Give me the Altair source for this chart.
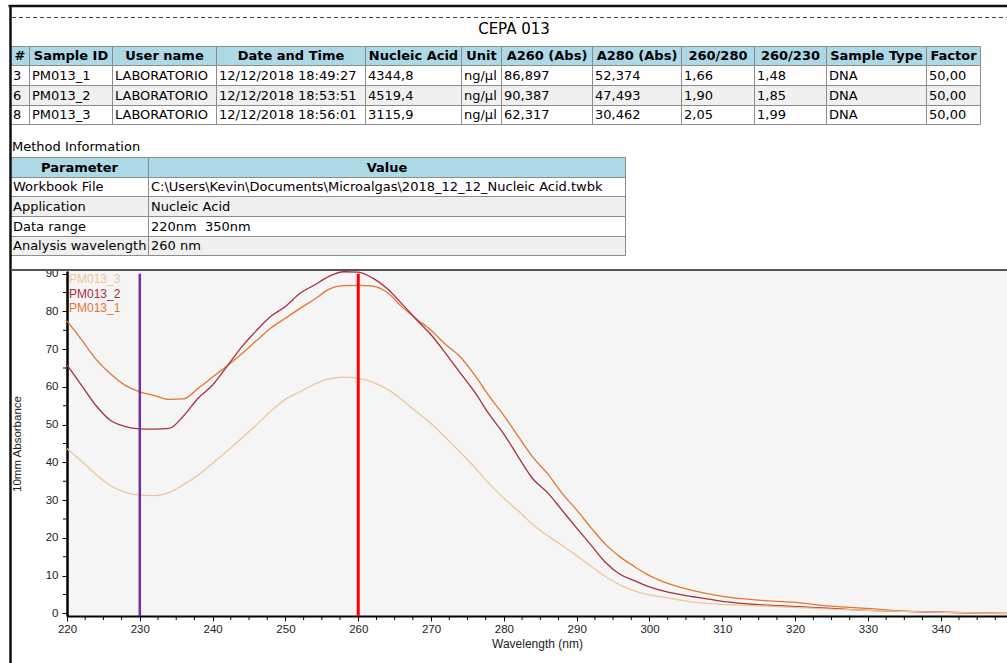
import altair as alt
import pandas as pd

# ------------------------------------------------------------------ data
wavelengths = [220, 222, 224, 226, 228, 230, 232, 234, 236, 238, 240, 242, 244, 246, 248, 250,
               252, 254, 256, 258, 260, 262, 264, 266, 268, 270, 272, 274, 276, 278, 280, 282,
               284, 286, 288, 290, 292, 294, 296, 298, 300, 303, 306, 310, 315, 320, 325, 330,
               335, 340, 345, 350]
pm013_1 = [77.5, 72.5, 67.3, 63.4, 60.4, 58.7, 57.7, 56.7, 56.8, 59.6, 62.6, 65.6, 68.8, 72.2, 75.6, 78.2,
           80.8, 83.2, 85.9, 86.8, 86.9, 86.7, 85.0, 81.2, 78.0, 75.0, 71.2, 68.0, 63.1, 57.5, 52.4, 46.8,
           41.3, 37.0, 31.8, 27.4, 22.6, 18.2, 14.9, 12.3, 10.0, 7.6, 6.0, 4.5, 3.5, 2.9, 1.9, 1.3,
           0.6, 0.35, 0.1, -0.1]
pm013_2 = [65.8, 60.4, 55.0, 51.1, 49.5, 48.9, 48.8, 49.0, 52.3, 57.0, 60.5, 65.5, 70.6, 74.9, 78.7, 81.3,
           84.8, 87.0, 89.3, 90.5, 90.4, 88.8, 86.0, 82.0, 77.8, 73.8, 68.9, 63.7, 58.6, 52.7, 47.5, 41.4,
           35.6, 32.0, 27.3, 22.6, 18.0, 13.4, 10.3, 8.6, 7.0, 5.4, 4.4, 3.2, 2.3, 1.8, 1.3, 0.8,
           0.5, 0.3, 0.1, 0.0]
pm013_3 = [43.7, 40.3, 36.8, 33.8, 32.1, 31.3, 31.2, 32.0, 34.1, 36.6, 39.8, 43.0, 46.4, 49.9, 53.6, 56.7,
           58.7, 60.7, 62.1, 62.6, 62.3, 61.2, 59.4, 56.6, 53.4, 50.3, 46.5, 42.7, 38.7, 34.3, 30.5, 27.1,
           23.5, 20.6, 18.0, 15.3, 12.4, 9.7, 7.5, 5.9, 4.9, 3.9, 3.0, 2.4, 2.0, 1.6, 1.1, 0.8,
           0.5, 0.3, 0.1, 0.0]
series_names = ["PM013_1", "PM013_2", "PM013_3"]
legend_order = ["PM013_3", "PM013_2", "PM013_1"]

marker_230 = [230]
marker_260 = [260]
marker_top = 90

x_ticks = [220, 230, 240, 250, 260, 270, 280, 290, 300, 310, 320, 330, 340]
y_ticks = [0, 10, 20, 30, 40, 50, 60, 70, 80, 90]
x_minor = [w / 2 for w in range(440, 700, 5) if w % 20 != 0]
y_minor = [5, 15, 25, 35, 45, 55, 65, 75, 85]

report_title = "CEPA 013"
sample_columns = ["#", "Sample ID", "User name", "Date and Time", "Nucleic Acid", "Unit",
                  "A260 (Abs)", "A280 (Abs)", "260/280", "260/230", "Sample Type", "Factor"]
row_number = ["3", "6", "8"]
sample_id = ["PM013_1", "PM013_2", "PM013_3"]
user_name = ["LABORATORIO", "LABORATORIO", "LABORATORIO"]
date_time = ["12/12/2018 18:49:27", "12/12/2018 18:53:51", "12/12/2018 18:56:01"]
nucleic_acid = ["4344,8", "4519,4", "3115,9"]
unit = ["ng/µl", "ng/µl", "ng/µl"]
a260 = ["86,897", "90,387", "62,317"]
a280 = ["52,374", "47,493", "30,462"]
ratio_260_280 = ["1,66", "1,90", "2,05"]
ratio_260_230 = ["1,48", "1,85", "1,99"]
sample_type = ["DNA", "DNA", "DNA"]
factor = ["50,00", "50,00", "50,00"]

method_caption = "Method Information"
method_columns = ["Parameter", "Value"]
method_params = ["Workbook File", "Application", "Data range", "Analysis wavelength"]
method_values = ["C:\\Users\\Kevin\\Documents\\Microalgas\\2018_12_12_Nucleic Acid.twbk",
                 "Nucleic Acid", "220nm\u00a0 350nm", "260 nm"]

# ------------------------------------------------------------------ layout / style
PAGE_W, PAGE_H = 1007, 663
PLOT_L, PLOT_T = 67, 271
PLOT_W, PLOT_H = 940, 345
series_colors = ["#E3772D", "#A8303D", "#EEC597"]
TXT_FONT = "DejaVu Sans"
AX_FONT = "Liberation Sans"
HEADER_FILL = "#ADD8E6"
ALT_FILL = "#F0F0F0"
GRID = "#8c8c8c"

t1_cols = [10.5, 29.5, 112.5, 216.5, 365.5, 461.5, 501.5, 592.5, 681.5, 754.5, 826.5, 926.5, 980.5]
t1_rows = [46.5, 65.5, 85.5, 105.5, 124.5]
t1_fills = ["white", ALT_FILL, "white"]
t2_cols = [10.5, 148.5, 625.5]
t2_rows = [157.5, 177.5, 196.5, 216.5, 236.5, 255.5]
t2_fills = ["white", ALT_FILL, "white", ALT_FILL]

page_x = alt.Scale(domain=[0, PAGE_W], range=[-PLOT_L, PAGE_W - PLOT_L], nice=False, zero=False)
page_y = alt.Scale(domain=[0, PAGE_H], range=[-PLOT_T, PAGE_H - PLOT_T], nice=False, zero=False)


def build_table(columns, rows, col_edges, row_edges, fills):
    recs = []
    for ci, name in enumerate(columns):
        recs.append(dict(x1=col_edges[ci], x2=col_edges[ci + 1], y1=row_edges[0], y2=row_edges[1],
                         fill=HEADER_FILL, label=name, kind="head",
                         tx=(col_edges[ci] + col_edges[ci + 1]) / 2, ty=(row_edges[0] + row_edges[1]) / 2))
    for ri, row in enumerate(rows):
        for ci, val in enumerate(row):
            recs.append(dict(x1=col_edges[ci], x2=col_edges[ci + 1], y1=row_edges[ri + 1], y2=row_edges[ri + 2],
                             fill=fills[ri], label=val, kind="body",
                             tx=col_edges[ci] + 2.5, ty=(row_edges[ri + 1] + row_edges[ri + 2]) / 2))
    return pd.DataFrame(recs)


t1_rows_data = list(zip(row_number, sample_id, user_name, date_time, nucleic_acid, unit,
                        a260, a280, ratio_260_280, ratio_260_230, sample_type, factor))
t2_rows_data = list(zip(method_params, method_values))
table_df = pd.concat([build_table(sample_columns, t1_rows_data, t1_cols, t1_rows, t1_fills),
                      build_table(method_columns, t2_rows_data, t2_cols, t2_rows, t2_fills)],
                     ignore_index=True)

base_t = alt.Chart(table_df)
cells = base_t.mark_rect(stroke=GRID, strokeWidth=1).encode(
    x=alt.X("x1:Q", scale=page_x, axis=None), x2="x2:Q",
    y=alt.Y("y1:Q", scale=page_y, axis=None), y2="y2:Q",
    fill=alt.Fill("fill:N", scale=None))
head_txt = base_t.transform_filter("datum.kind == 'head'").mark_text(
    font=TXT_FONT, fontSize=13, fontWeight="bold", align="center", baseline="middle", color="black"
).encode(x=alt.X("tx:Q", scale=page_x, axis=None), y=alt.Y("ty:Q", scale=page_y, axis=None), text="label:N")
body_txt = base_t.transform_filter("datum.kind == 'body'").mark_text(
    font=TXT_FONT, fontSize=13, align="left", baseline="middle", color="black"
).encode(x=alt.X("tx:Q", scale=page_x, axis=None), y=alt.Y("ty:Q", scale=page_y, axis=None), text="label:N")

title_txt = alt.Chart(pd.DataFrame({"label": [report_title], "tx": [514], "ty": [29]})).mark_text(
    font=TXT_FONT, fontSize=15, align="center", baseline="middle", color="black"
).encode(x=alt.X("tx:Q", scale=page_x, axis=None), y=alt.Y("ty:Q", scale=page_y, axis=None), text="label:N")
caption_txt = alt.Chart(pd.DataFrame({"label": [method_caption], "tx": [12], "ty": [147]})).mark_text(
    font=TXT_FONT, fontSize=13, align="left", baseline="middle", color="black"
).encode(x=alt.X("tx:Q", scale=page_x, axis=None), y=alt.Y("ty:Q", scale=page_y, axis=None), text="label:N")


def page_rule(x1, x2, y1, y2, **style):
    df = pd.DataFrame({"x1": [x1], "x2": [x2], "y1": [y1], "y2": [y2]})
    return alt.Chart(df).mark_rule(**style).encode(
        x=alt.X("x1:Q", scale=page_x, axis=None), x2="x2:Q",
        y=alt.Y("y1:Q", scale=page_y, axis=None), y2="y2:Q")


frame_top = page_rule(8.5, PAGE_W, 6, 6, color="#111111", strokeWidth=2.5)
frame_left = page_rule(10.5, 10.5, 5, PAGE_H, color="#111111", strokeWidth=2.5)
dashed = page_rule(12, PAGE_W, 17.5, 17.5, color="#444444", strokeWidth=1, strokeDash=[4, 3])
plot_top = page_rule(11, PAGE_W, 270, 270, color="#555555", strokeWidth=2)

page = alt.layer(cells, head_txt, body_txt, title_txt, caption_txt,
                 frame_top, frame_left, dashed, plot_top)

# ------------------------------------------------------------------ spectrum
spec_df = pd.DataFrame({
    "wavelength": wavelengths * 3,
    "absorbance": pm013_1 + pm013_2 + pm013_3,
    "sample": [series_names[0]] * len(wavelengths) + [series_names[1]] * len(wavelengths)
              + [series_names[2]] * len(wavelengths),
})
x_scale = alt.Scale(domain=[220, 349.1], nice=False, zero=False)
y_scale = alt.Scale(domain=[-0.7, 90.7], nice=False, zero=False)
color_scale = alt.Scale(domain=series_names, range=series_colors)

x_axis = alt.Axis(values=x_ticks, title="Wavelength (nm)", grid=False, labelOverlap=False,
                  domainColor="black", domainWidth=2, tickColor="black", tickSize=5, tickWidth=1,
                  labelFont=AX_FONT, labelFontSize=11.5, labelColor="#222222", labelPadding=2,
                  labelFlush=False, titleFont=AX_FONT, titleFontSize=12, titleFontWeight="normal",
                  titleColor="#222222", titlePadding=4)
y_axis = alt.Axis(values=y_ticks, title="10mm Absorbance", grid=False, labelOverlap=False,
                  domainColor="black", domainWidth=2.5, tickColor="black", tickSize=5, tickWidth=1,
                  labelFont=AX_FONT, labelFontSize=11.5, labelColor="#222222", labelPadding=4,
                  labelFlush=False, titleFont=AX_FONT, titleFontSize=11.5, titleFontWeight="normal",
                  titleColor="#222222", titlePadding=23)


def X(field="wavelength"):
    return alt.X(f"{field}:Q", scale=x_scale, axis=x_axis, title="Wavelength (nm)")


def Y(field="absorbance"):
    return alt.Y(f"{field}:Q", scale=y_scale, axis=y_axis, title="10mm Absorbance")


lines = alt.Chart(spec_df).mark_line(strokeWidth=1.3, interpolate="monotone").encode(
    x=X(), y=Y(),
    color=alt.Color("sample:N", scale=color_scale, legend=None),
    detail="sample:N",
)

m230 = alt.Chart(pd.DataFrame({"wavelength": marker_230, "absorbance": [marker_top], "absorbance2": [-0.7]})
                 ).mark_rule(color="#7030A0", strokeWidth=2.5).encode(x=X(), y=Y(), y2="absorbance2:Q")
m260 = alt.Chart(pd.DataFrame({"wavelength": marker_260, "absorbance": [marker_top], "absorbance2": [-0.7]})
                 ).mark_rule(color="#FF0000", strokeWidth=3).encode(x=X(), y=Y(), y2="absorbance2:Q")

minor_x_layer = alt.Chart(pd.DataFrame({"wavelength": x_minor})).mark_rule(color="black", strokeWidth=1).encode(
    x=X(), y=alt.value(PLOT_H + 1), y2=alt.value(PLOT_H + 4))
minor_y_layer = alt.Chart(pd.DataFrame({"absorbance": y_minor})).mark_rule(color="black", strokeWidth=1).encode(
    y=Y(), x=alt.value(-4), x2=alt.value(-1))

legend_layers = []
for i, name in enumerate(legend_order):
    legend_layers.append(
        alt.Chart(pd.DataFrame({"sample": [name]})).mark_text(
            font=AX_FONT, fontSize=12, align="left", baseline="middle"
        ).encode(x=alt.value(2), y=alt.value(8 + 14.5 * i), text="sample:N",
                 color=alt.Color("sample:N", scale=color_scale, legend=None)))

spectrum = alt.layer(lines, m230, m260, minor_x_layer, minor_y_layer, *legend_layers)

chart = alt.layer(page, spectrum).resolve_scale(x="independent", y="independent").properties(
    width=PLOT_W, height=PLOT_H,
    padding={"left": PLOT_L, "top": PLOT_T, "right": PAGE_W - PLOT_L - PLOT_W,
             "bottom": PAGE_H - PLOT_T - PLOT_H},
    autosize=alt.AutoSizeParams(type="none"),
    background="white",
).configure_view(fill="#F5F5F5", stroke=None)

chart.save("out.html", embed_options={"renderer": "svg", "actions": False})
